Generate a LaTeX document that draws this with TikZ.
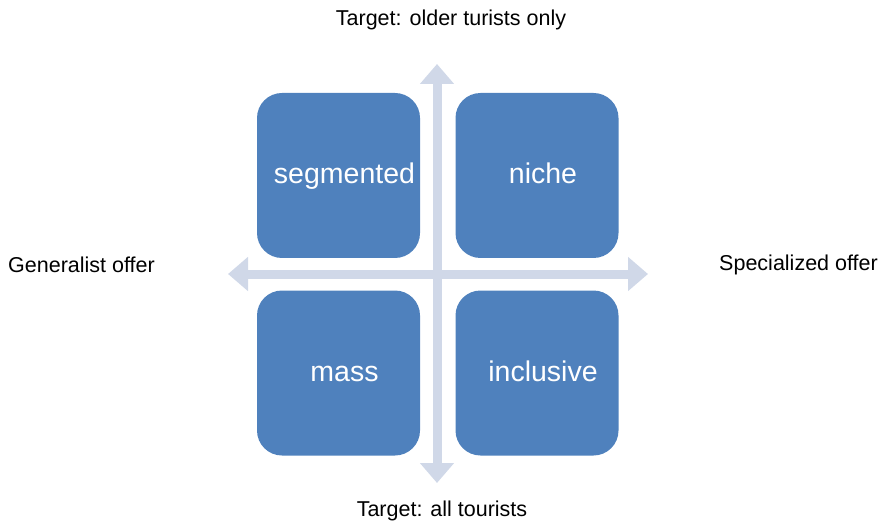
\documentclass[tikz,border=0pt]{standalone}
\usepackage{fontspec}
\setmainfont{Liberation Sans}
\usetikzlibrary{arrows.meta}
\definecolor{quadblue}{HTML}{4F81BD}
\definecolor{axisgray}{HTML}{D0D8E8}
\tikzset{
  quad/.style={fill=quadblue,rounded corners=25pt,minimum width=163pt,minimum height=165pt,inner sep=0pt},
  quadtext/.style={text=white,font=\fontsize{28.5}{30}\selectfont,text height=21pt,text depth=6pt,inner sep=0pt,xshift=6pt,yshift=-1pt},
  axis/.style={draw=axisgray,line width=9pt,{Triangle[width=33pt,length=20pt]}-{Triangle[width=33pt,length=20pt]}},
  caption/.style={font=\fontsize{21.5}{24}\selectfont,inner sep=0pt}
}
\begin{document}
\begin{tikzpicture}[x=1pt,y=-1pt]
  \useasboundingbox (0,0) rectangle (880,521);
  % axis end points
  \coordinate (H-left) at (228,274);
  \coordinate (H-right) at (648,274);
  \coordinate (V-top) at (437,64);
  \coordinate (V-bottom) at (437,483);
  \draw[axis] (H-left) -- (H-right);
  \draw[axis] (V-bottom) -- (V-top);
  % the four quadrants
  \foreach \name/\xx/\yy/\txt in {seg/338.5/175.5/segmented,nic/537/175.5/niche,mas/338.5/373/mass,inc/537/373/inclusive}{
      \node[quad,label={[quadtext]center:\txt}] (Q-\name) at (\xx,\yy) {};
    }
  % axis captions
  \node[caption] (C-top) at (451,20) {Target: older turists only};
  \node[caption] (C-bottom) at (442,511) {Target: all tourists};
  \node[caption,anchor=west] (C-left) at (8,265) {Generalist offer};
  \node[caption,anchor=east] (C-right) at (878,265) {Specialized offer};
\end{tikzpicture}
\end{document}
